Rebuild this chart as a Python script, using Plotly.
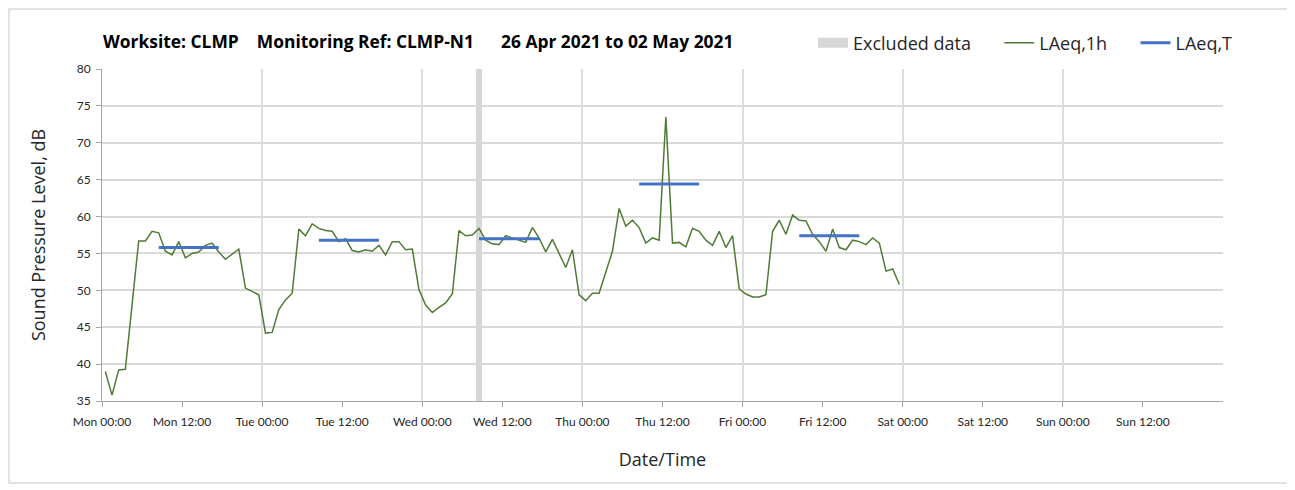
import pandas as pd
import plotly.graph_objects as go

# ---- data ----
start_time = "2021-04-26 00:30"
laeq_1h = [
    39.0, 35.8, 39.2, 39.3, 48.0, 56.7, 56.7, 58.0, 57.8, 55.3, 54.8, 56.6,
    54.4, 55.0, 55.2, 56.1, 56.4, 55.2, 54.2, 54.9, 55.6, 50.3, 49.8, 49.4,
    44.2, 44.3, 47.4, 48.7, 49.6, 58.3, 57.4, 59.0, 58.4, 58.1, 58.0, 56.6,
    57.0, 55.4, 55.2, 55.5, 55.3, 56.1, 54.8, 56.6, 56.6, 55.5, 55.6, 50.1,
    48.0, 47.0, 47.7, 48.3, 49.5, 58.1, 57.4, 57.5, 58.4, 56.8, 56.3, 56.2,
    57.4, 57.1, 56.9, 56.5, 58.5, 57.1, 55.2, 56.9, 55.0, 53.1, 55.5, 49.4,
    48.6, 49.6, 49.6, 52.5, 55.3, 61.1, 58.7, 59.5, 58.5, 56.4, 57.1, 56.8,
    73.5, 56.4, 56.5, 55.9, 58.4, 58.0, 56.8, 56.1, 58.0, 55.8, 57.4, 50.2,
    49.5, 49.1, 49.1, 49.4, 58.0, 59.5, 57.6, 60.2, 59.5, 59.4, 57.6, 56.6,
    55.3, 58.3, 55.8, 55.5, 56.8, 56.6, 56.2, 57.1, 56.4, 52.6, 52.9, 50.8,
]

laeq_t_start = ["2021-04-26 08:30", "2021-04-27 08:30", "2021-04-28 08:30",
                "2021-04-29 08:30", "2021-04-30 08:30"]
laeq_t_end = ["2021-04-26 17:30", "2021-04-27 17:30", "2021-04-28 17:30",
              "2021-04-29 17:30", "2021-04-30 17:30"]
laeq_t = [55.8, 56.8, 57.0, 64.4, 57.4]

excluded_start = "2021-04-28 08:00"
excluded_end = "2021-04-28 09:00"

tick_labels = ["Mon 00:00", "Mon 12:00", "Tue 00:00", "Tue 12:00", "Wed 00:00",
               "Wed 12:00", "Thu 00:00", "Thu 12:00", "Fri 00:00", "Fri 12:00",
               "Sat 00:00", "Sat 12:00", "Sun 00:00", "Sun 12:00"]
axis_start = "2021-04-26 00:00"
axis_end = "2021-05-03 00:00"
y_min, y_max = 35, 80

NB = "&nbsp;"
title_text = ("Worksite: CLMP" + NB * 4 + "Monitoring Ref: CLMP-N1" + NB * 6
              + "26 Apr 2021 to 02 May 2021")

# ---- derived ----
times = pd.date_range(start_time, periods=len(laeq_1h), freq="h")
tick_vals = pd.date_range(axis_start, periods=len(tick_labels), freq="12h")
grid_vals = pd.date_range(axis_start, axis_end, freq="24h")[1:]

bx, by = [], []
for s, e, v in zip(laeq_t_start, laeq_t_end, laeq_t):
    bx += [s, e, None]
    by += [v, v, None]

ex_s = pd.Timestamp(excluded_start)
ex_e = pd.Timestamp(excluded_end)
ex_mid = ex_s + (ex_e - ex_s) / 2
ex_width = (ex_e - ex_s).total_seconds() * 1000

FONT = "Lato"
TFONT = "Open Sans"
GRAY_EX = "#D6D6D6"

fig = go.Figure()

fig.add_trace(go.Bar(
    x=[ex_mid], y=[y_max - y_min], base=[y_min], width=[ex_width],
    marker=dict(color=GRAY_EX, line=dict(width=0)),
    name="Excluded data", showlegend=False, hoverinfo="skip",
))
# legend entry for the excluded band
fig.add_trace(go.Scatter(
    x=[None], y=[None], mode="lines", name="Excluded data" + NB * 5,
    line=dict(color=GRAY_EX, width=11),
))
fig.add_trace(go.Scatter(
    x=times, y=laeq_1h, mode="lines", name="LAeq,1h" + NB * 5,
    line=dict(color="#4F7B35", width=1.5),
))
fig.add_trace(go.Scatter(
    x=bx, y=by, mode="lines", name="LAeq,T",
    line=dict(color="#4472C4", width=3),
))
# dummy trace for the overlay axis carrying the daily gridlines
fig.add_trace(go.Scatter(
    x=[axis_start], y=[y_min], xaxis="x2", mode="markers",
    marker=dict(opacity=0), showlegend=False, hoverinfo="skip",
))

L, T = 94, 61
fig.update_layout(
    width=1295, height=490,
    margin=dict(l=L, r=80, t=T, b=97, autoexpand=False),
    paper_bgcolor="white", plot_bgcolor="white",
    font=dict(family=FONT, color="#262626"),
    title=dict(text=title_text, x=95 / 1295, xanchor="left", xref="container",
               y=1 - 34 / 490, yanchor="middle", yref="container",
               font=dict(family=TFONT, size=17.4, color="#000000", weight="bold")),
    showlegend=True,
    legend=dict(orientation="h", x=1.0134, xanchor="right", y=1.078,
                yanchor="middle", font=dict(family=TFONT, size=18, color="#262626"),
                bgcolor="rgba(0,0,0,0)", itemwidth=30, traceorder="normal"),
    bargap=0,
    xaxis=dict(
        type="date", range=[axis_start, axis_end],
        tickmode="array", tickvals=tick_vals, ticktext=tick_labels,
        showgrid=False, zeroline=False,
        showline=True, linecolor="#A6A6A6", linewidth=1,
        ticks="outside", ticklen=5, tickcolor="#A6A6A6",
        ticklabelstandoff=5,
        tickfont=dict(size=12, color="#262626"),
        title=dict(text="Date/Time", font=dict(family=TFONT, size=18, color="#262626"),
                   standoff=24),
    ),
    xaxis2=dict(
        type="date", range=[axis_start, axis_end], overlaying="x", side="bottom",
        tickmode="array", tickvals=grid_vals, showticklabels=False,
        showgrid=True, gridcolor="#DCDCDC", gridwidth=1.5,
        ticks="", zeroline=False, showline=False,
    ),
    yaxis=dict(
        range=[y_min, y_max], dtick=5, tick0=35,
        showgrid=True, gridcolor="#D9D9D9", gridwidth=1.5, zeroline=False,
        showline=True, linecolor="#A6A6A6", linewidth=1,
        ticks="outside", ticklen=5, tickcolor="#A6A6A6",
        ticklabelstandoff=3,
        tickfont=dict(size=12, color="#262626"),
        title=dict(text="Sound Pressure Level, dB",
                   font=dict(family=TFONT, size=18, color="#262626"), standoff=26),
    ),
)

# outer chart border (page body margin of 8px shifts the figure)
W_PLOT, H_PLOT = 1295 - L - 80, 490 - T - 97
fig.add_shape(type="rect", xref="paper", yref="paper",
              x0=(1 - L) / W_PLOT, x1=(1281 - L) / W_PLOT,
              y0=-(475 - (T + H_PLOT)) / H_PLOT, y1=1 + (T - 1) / H_PLOT,
              line=dict(color="#D9D9D9", width=1.5), layer="below")

fig.write_html("out.html")
